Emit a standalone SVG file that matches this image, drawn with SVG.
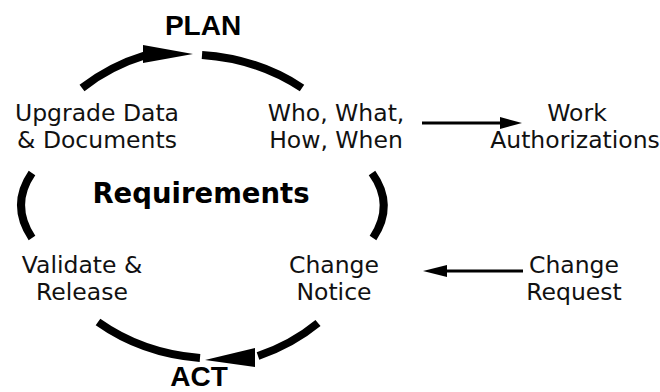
<svg xmlns="http://www.w3.org/2000/svg" width="660" height="392" viewBox="0 0 660 392">
<style>
.t{font-family:"DejaVu Sans",sans-serif;font-size:23.5px;fill:#111;text-anchor:middle}
.b{font-family:"Liberation Sans",Arial,sans-serif;font-weight:bold;font-size:28px;fill:#000;text-anchor:middle}
.r{font-family:"DejaVu Sans",sans-serif;font-weight:bold;font-size:27.5px;fill:#000;text-anchor:middle}
.arc{fill:none;stroke:#000;stroke-width:8}
.thin{fill:none;stroke:#000;stroke-width:3}
</style>
<rect width="660" height="392" fill="#fff"/>
<g id="connectors">
<path class="arc" d="M82,88 A185,155 0 0 1 146,55"/>
<polygon points="143,45 193,54 143,63"/>
<path class="arc" d="M202,55 A185,155 0 0 1 302,88"/>
<path class="arc" d="M32,173 Q10,205 32,238"/>
<path class="arc" d="M372,173 Q395,205 373,238"/>
<path class="arc" d="M98,322 A185,155 0 0 0 200,358"/>
<path class="arc" d="M318,323 A185,155 0 0 1 258,356"/>
<polygon points="255,348 205,360 255,367"/>
<line class="thin" x1="422" y1="123" x2="502" y2="123"/>
<polygon points="500,117 522,123 500,129"/>
<line class="thin" x1="523" y1="271" x2="445" y2="271"/>
<polygon points="447,265 423,271 447,277"/>
</g>
<g id="plan"><text class="b" x="203" y="35">PLAN</text></g>
<g id="act"><text class="b" x="199" y="386">ACT</text></g>
<g id="requirements"><text class="r" x="201" y="203">Requirements</text></g>
<g id="upgrade"><text class="t" x="97" y="121">Upgrade Data</text><text class="t" x="97" y="148">&amp; Documents</text></g>
<g id="who"><text class="t" x="336" y="121">Who, What,</text><text class="t" x="336" y="148">How, When</text></g>
<g id="work"><text class="t" x="577" y="121">Work</text><text class="t" x="575" y="148">Authorizations</text></g>
<g id="validate"><text class="t" x="82" y="273">Validate &amp;</text><text class="t" x="82" y="300">Release</text></g>
<g id="notice"><text class="t" x="334" y="273">Change</text><text class="t" x="334" y="300">Notice</text></g>
<g id="request"><text class="t" x="574" y="273">Change</text><text class="t" x="574" y="300">Request</text></g>
</svg>
